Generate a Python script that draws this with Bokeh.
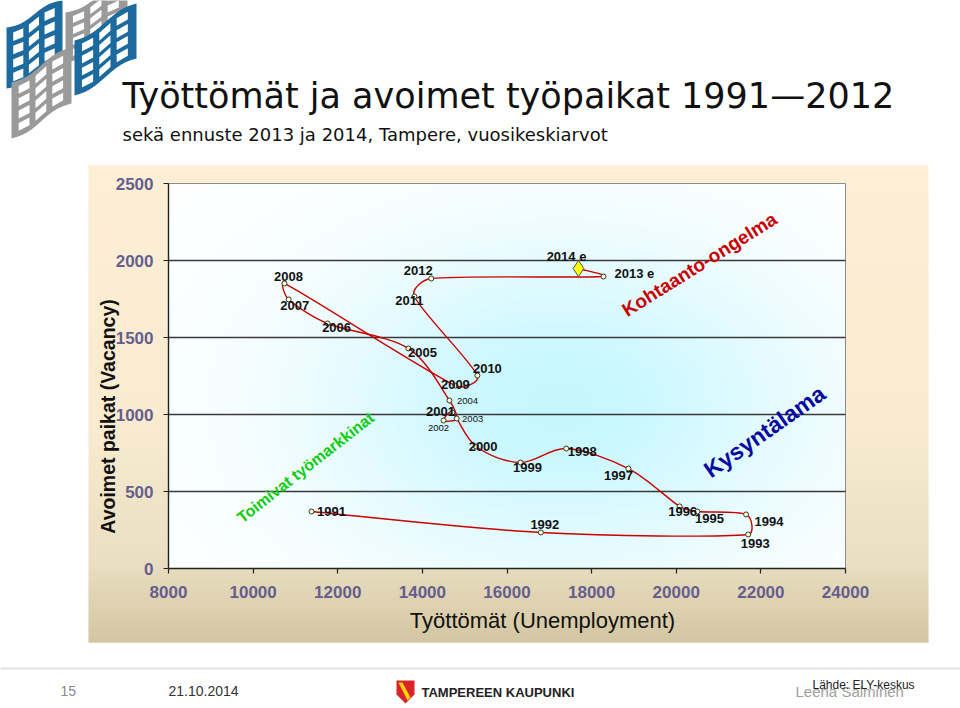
import numpy as np
from bokeh.plotting import figure
from bokeh.models import ColumnDataSource, Range1d, LinearAxis, FixedTicker
from bokeh.core.properties import value, field
from bokeh.embed import file_html
from bokeh.resources import INLINE

# ---------------- data ----------------
years = ["1991", "1992", "1993", "1994", "1995", "1996", "1997", "1998", "1999",
         "2000", "2001", "2002", "2003", "2004", "2005", "2006", "2007", "2008",
         "2009", "2010", "2011", "2012", "2013 e", "2014 e"]
unemployed = [11380, 16800, 21700, 21650, 20500, 20080, 18870, 17400, 16320,
              15270, 14710, 14500, 14810, 14640, 13670, 11760, 10840, 10740,
              14780, 15300, 13810, 14210, 18280, 17690]
vacancies = [370, 234, 221, 351, 370, 403, 649, 779, 688,
             792, 1013, 961, 974, 1091, 1429, 1591, 1747, 1851,
             1188, 1253, 1766, 1883, 1896, 1948]
x_ticks = [8000, 10000, 12000, 14000, 16000, 18000, 20000, 22000, 24000]
y_ticks = [0, 500, 1000, 1500, 2000, 2500]

# label placement relative to each point (screen pixels: right, down)
label_dx = [20, 4, 7, 23, 12, 3, -10, 16, 7, 7, -12, -5, 16, 18, 14, 9, 6, 4, 0, 10, -5, -13, 31, -12]
label_dy = [0, -8, 9, 7, 7, 5, 7, 3, 5, 0, -1, 7, 0, 1, 4, 4, 6, -7, -1, -7, 4, -8, -3, -12]
small_labels = ["2002", "2003", "2004"]

# ---------------- page / chart geometry (page pixels) ----------------
PW, PH = 960, 708
FL, FR, FT, FB = 168, 845, 183, 568          # chart area on the page
XR0, XR1 = x_ticks[0], x_ticks[-1]
YR0, YR1 = y_ticks[0], y_ticks[-1]
sx = (XR1 - XR0) / (FR - FL)
sy = (YR1 - YR0) / (FB - FT)

# page canvas: frame covers whole page, y grows downward (page pixels)
p = figure(width=PW, height=PH, x_range=Range1d(0, PW), y_range=Range1d(PH, 0),
           x_axis_type=None, y_axis_type=None, min_border=0,
           output_backend="svg", toolbar_location=None,
           border_fill_color="white", background_fill_color="white")
p.outline_line_color = None
p.grid.visible = False
# data scales of the chart, mapped onto the chart area
p.extra_x_ranges = {"ux": Range1d(XR0 - FL * sx, XR1 + (PW - FR) * sx)}
p.extra_y_ranges = {"vy": Range1d(YR0 - (PH - FB) * sy, YR1 + FT * sy)}
D = dict(x_range_name="ux", y_range_name="vy")

# ---------------- beige panel (vertical gradient) ----------------
stops = [(165, (252, 239, 214)), (430, (248, 235, 207)), (560, (234, 223, 194)), (642, (211, 198, 162))]


def panel_color(yy):
    for (y0, c0), (y1, c1) in zip(stops[:-1], stops[1:]):
        if y0 <= yy <= y1:
            t = (yy - y0) / (y1 - y0)
            c = [int(round(a + (b - a) * t)) for a, b in zip(c0, c1)]
            return "#%02x%02x%02x" % tuple(c)
    return "#%02x%02x%02x" % stops[-1][1]


PL, PR, PT, PB = 88, 928, 165, 642
edges = list(range(PT, PB, 4)) + [PB]
bt = edges[:-1]
bb = [min(e + 1, PB) for e in edges[1:]]
p.quad(left=PL, right=PR, top=bt, bottom=bb,
       fill_color=[panel_color((a + b) / 2) for a, b in zip(bt, bb)], line_color=None)

# ---------------- plot area gradient ----------------
H, W = 120, 200
u = np.linspace(0, 1, W)[None, :]
v_top = np.linspace(1, 0, H)[:, None]          # row 0 is the bottom of the chart area
t = np.exp(-((u - 0.58) / 0.36) ** 2 - ((v_top - 0.58) / 0.42) ** 2)
img = np.empty((H, W), dtype=np.uint32)
view = img.view(dtype=np.uint8).reshape((H, W, 4))
view[:, :, 0] = (255 - 57 * t).astype(np.uint8)
view[:, :, 1] = (255 - 8 * t).astype(np.uint8)
view[:, :, 2] = 255
view[:, :, 3] = 255
p.image_rgba(image=[img], x=XR0, y=YR0, dw=XR1 - XR0, dh=YR1 - YR0, **D)

# chart border (top / right in grey) and horizontal grid lines
p.quad(left=XR0, right=XR1, bottom=YR0, top=YR1, fill_color=None,
       line_color="#8c8c8c", line_width=1, **D)
gy = y_ticks[1:-1]
p.segment(x0=[XR0] * len(gy), x1=[XR1] * len(gy), y0=gy, y1=gy,
          line_color="#3a3a3a", line_width=1.4, **D)

# ---------------- axes ----------------
xaxis = LinearAxis(ticker=FixedTicker(ticks=x_ticks), fixed_location=YR0,
                   bounds=(XR0, XR1), **D)
yaxis = LinearAxis(ticker=FixedTicker(ticks=y_ticks), fixed_location=XR0,
                   bounds=(YR0, YR1), **D)
for ax in (xaxis, yaxis):
    ax.axis_line_color = "#222222"
    ax.axis_line_width = 1.4
    ax.major_tick_line_color = "#222222"
    ax.major_tick_line_width = 1.2
    ax.major_tick_in = 0
    ax.major_tick_out = 5
    ax.minor_tick_line_color = None
    ax.major_label_text_font = "Liberation Sans"
    ax.major_label_text_font_style = "bold"
    ax.major_label_text_font_size = "17px"
    ax.major_label_text_color = "#655e8e"
yaxis.major_label_standoff = 10
xaxis.major_label_standoff = 12
p.add_layout(xaxis, "below")
p.add_layout(yaxis, "left")

# ---------------- smoothed curve (Bezier segments through the points) ----------------
# tangents computed on screen scale (as a spreadsheet smoother does), limited so that
# a control handle never exceeds a third of its segment's length
P = np.column_stack([unemployed, vacancies]).astype(float)
S = np.column_stack([P[:, 0] / sx, P[:, 1] / sy])
prev_pts = np.vstack([S[:1], S[:-1]])
next_pts = np.vstack([S[1:], S[-1:]])
tang = (next_pts - prev_pts) / 6.0
seg = S[1:] - S[:-1]
seg_len = np.hypot(seg[:, 0], seg[:, 1])


def limit(vecs, maxlen):
    ln = np.hypot(vecs[:, 0], vecs[:, 1])
    f = np.where(ln > maxlen, maxlen / np.maximum(ln, 1e-9), 1.0)
    return vecs * f[:, None]


h0 = limit(tang[:-1], seg_len / 3.0)
h1 = limit(tang[1:], seg_len / 3.0)
c0 = S[:-1] + h0
c1 = S[1:] - h1
p.bezier(x0=P[:-1, 0], y0=P[:-1, 1], x1=P[1:, 0], y1=P[1:, 1],
         cx0=c0[:, 0] * sx, cy0=c0[:, 1] * sy, cx1=c1[:, 0] * sx, cy1=c1[:, 1] * sy,
         line_color="#cc0000", line_width=1.4, **D)

# markers
n_obs = len(years) - 1
p.scatter(unemployed[:n_obs], vacancies[:n_obs], marker="circle", size=5,
          fill_color="#ffffcc", line_color="#333333", line_width=1, **D)
p.scatter(unemployed[n_obs:], vacancies[n_obs:], marker="diamond", size=16,
          fill_color="#ffff00", line_color="#555555", line_width=1, **D)

# year labels
big_idx = [i for i, yv in enumerate(years) if yv not in small_labels]
small_idx = [i for i, yv in enumerate(years) if yv in small_labels]
for idx, fs, style in ((big_idx, "13px", "bold"), (small_idx, "9.5px", "normal")):
    src = ColumnDataSource(dict(
        x=[unemployed[i] for i in idx], y=[vacancies[i] for i in idx],
        t=[years[i] for i in idx], dx=[label_dx[i] for i in idx],
        dy=[label_dy[i] for i in idx]))
    p.text(x="x", y="y", text="t", x_offset=field("dx"), y_offset=field("dy"), source=src,
           text_align="center", text_baseline="middle", text_font=value("Liberation Sans"),
           text_font_size=fs, text_font_style=style, text_color="#111111", **D)


# ---------------- page texts (page pixel coordinates) ----------------
def ptext(x, y, s, size, color="#111111", font="Liberation Sans", style="normal",
          align="left", baseline="middle", angle=0.0):
    p.text(x=[x], y=[y], text=[s], angle=angle, text_align=align, text_baseline=baseline,
           text_font=value(font), text_font_size=size, text_font_style=style,
           text_color=color)


# rotated notes inside the chart
ptext(699, 264, "Kohtaanto-ongelma", "19px", "#c80000", style="bold", align="center",
      angle=np.radians(32))
ptext(764, 431, "Kysyntälama", "23px", "#0a0aa0", style="bold", align="center",
      angle=np.radians(35))
ptext(305, 467, "Toimivat työmarkkinat", "16px", "#11cc11", style="bold", align="center",
      angle=np.radians(38))

# axis titles
ptext(107, 416, "Avoimet paikat (Vacancy)", "19.5px", style="bold", align="center",
      angle=np.pi / 2)
ptext(542, 620, "Työttömät (Unemployment)", "22px", align="center")

# titles
ptext(122, 95, "Työttömät ja avoimet työpaikat 1991\u20142012", "35px", font="DejaVu Sans")
ptext(122, 134, "sekä ennuste 2013 ja 2014, Tampere, vuosikeskiarvot", "18px",
      font="DejaVu Sans")

# ---------------- logo (top-left) ----------------
lx, ly, lc = [], [], []


def flag(xl, xr, ytl, ybl, rise, color):
    def m(uu, vv):
        return (xl + uu * (xr - xl),
                ytl + vv * (ybl - ytl) - rise * uu + 3 * np.sin(2 * np.pi * uu))
    us = np.linspace(0, 1, 13)
    pts = [m(a, 0) for a in us] + [m(a, 1) for a in us[::-1]]
    lx.append([q[0] for q in pts])
    ly.append([q[1] for q in pts])
    lc.append(color)
    for c in range(3):
        for rr in range(4):
            u0 = 0.12 + c * 0.28
            u1 = u0 + 0.18
            v0 = 0.1 + rr * 0.22
            v1 = v0 + 0.14
            q = [m(u0, v0), m(u1, v0), m(u1, v1), m(u0, v1)]
            lx.append([a[0] for a in q])
            ly.append([a[1] for a in q])
            lc.append("white")


flag(6, 62, 27, 88, 27, "#1d6b9e")
flag(65, 127, 12, 62, 30, "#9a9a9a")
flag(11, 71, 82, 138, 35, "#9a9a9a")
flag(74, 136, 40, 95, 37, "#1d6b9e")
p.patches(xs=lx, ys=ly, fill_color=lc, line_color=None)

# ---------------- footer ----------------
p.quad(left=0, right=PW, top=667, bottom=669, fill_color="#e2e2e2", line_color=None)
ptext(60, 690, "15", "14px", "#8a8a8a")
ptext(168, 690, "21.10.2014", "14px", "#333333")
p.patches(xs=[[396, 414, 414, 405, 396], [398, 402, 410, 407]],
          ys=[[680, 680, 694, 703, 694], [682, 682, 697, 700]],
          fill_color=["#d8232a", "#ffd200"], line_color=None)
ptext(421, 692, "TAMPEREEN KAUPUNKI", "13px", "#222222", style="bold")
ptext(795, 691, "Leena Salminen", "15px", "#a0a0a0")
ptext(812, 684, "Lähde: ELY-keskus", "12px", "#222222")

open("out.html", "w").write(file_html(p, INLINE))
